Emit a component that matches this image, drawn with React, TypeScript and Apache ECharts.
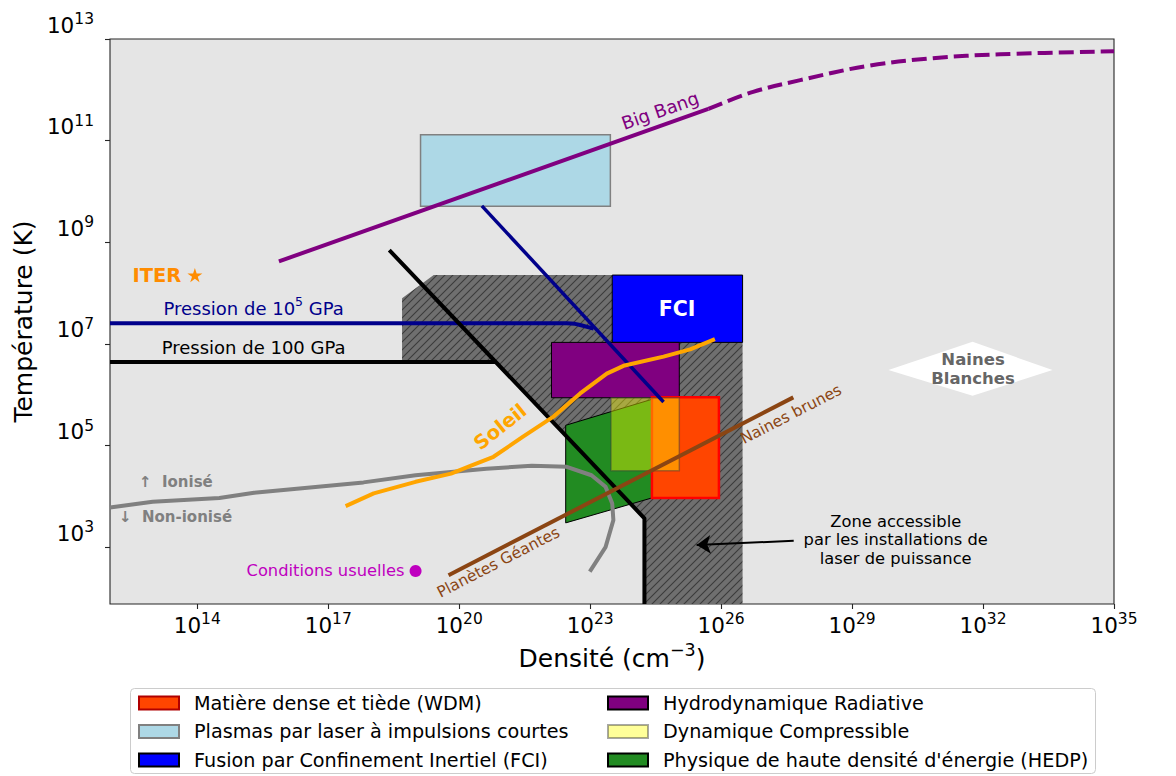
import React, { useEffect, useRef } from 'react';
import * as echarts from 'echarts';

const FONT = 'DejaVu Sans';

// ---- axes ----
const X_MIN = 1e12;
const X_MAX = 1e35;
const Y_MIN = 76;
const Y_MAX = 1e13;
const xTickValues = [1e14, 1e17, 1e20, 1e23, 1e26, 1e29, 1e32, 1e35];
const yTickValues = [1e3, 1e5, 1e7, 1e9, 1e11, 1e13];

// ---- regions: [densityMin, densityMax, tempMin, tempMax] ----
const wdmBox = [2.6e24, 8.9e25, 9.3e3, 8.9e5];
const plasmaBox = [1.3e19, 2.9e23, 5.1e9, 1.3e11];
const fciBox = [3.2e23, 3.1e26, 1.07e7, 2.26e8];
const hydroBox = [1.3e22, 1.1e25, 8.7e5, 1.07e7];
const compressBox = [3.0e23, 1.1e25, 3.2e4, 8.7e5];
const hedpPolygon = [[2.75e22, 2.5e5], [2.6e24, 8.1e5], [2.6e24, 9.3e3], [2.75e22, 3.0e3]];
const laserZonePolygon = [
  [4.9e18, 7.9e7], [2.6e19, 2.26e8], [3.1e26, 2.26e8], [3.1e26, Y_MIN],
  [1.75e24, Y_MIN], [1.75e24, 3.7e3], [6.9e20, 4.4e6], [4.9e18, 4.4e6],
];
const whiteDwarfPolygon = [[6.8e29, 3.05e6], [5.75e31, 1.1e7], [3.9e33, 3.05e6], [5.75e31, 9.5e5]];

// ---- curves ----
const pressure100GPa = [[1e12, 4.4e6], [6.9e20, 4.4e6]];
const pressure1e5GPa = [[1e12, 2.54e7], [2.9e22, 2.54e7], [4.5e22, 2.48e7], [5.9e22, 2.35e7], [1.2e23, 2.0e7]];
const degeneracyLine = [[2.5e18, 7.0e8], [1.75e24, 3.7e3], [1.75e24, Y_MIN]];
const navyLine = [[3.3e20, 5.2e9], [4.8e24, 7.2e5]];
const bigBangSolid = [[7.4e15, 4.2e8], [5.1e25, 4.2e11]];
const bigBangDashed = [[5.1e25, 4.2e11], [5.4e26, 9.1e11], [6.5e27, 1.55e12], [2.2e29, 2.95e12], [7.1e30, 4.2e12], [2.45e32, 5.0e12], [1e35, 5.75e12]];
const ionisationCurve = [
  [1e12, 6.05e3], [9.5e12, 7.8e3], [3.2e14, 9.3e3], [2.0e15, 1.17e4], [6.4e17, 1.88e4],
  [1.0e19, 2.6e4], [4.2e20, 3.5e4], [4.6e21, 4.0e4], [2.9e22, 3.8e4], [1.07e23, 2.6e4],
  [2.25e23, 1.54e4], [3.2e23, 7.2e3], [3.4e23, 3.4e3], [2.25e23, 1.0e3], [9.8e22, 3.3e2],
];
const sunCurve = [
  [2.5e17, 6.4e3], [1.1e18, 1.14e4], [1.0e19, 1.93e4], [6.5e19, 2.8e4], [2.0e20, 4.1e4],
  [6.1e20, 6.0e4], [2.9e21, 1.49e5], [1.44e22, 3.7e5], [5.9e22, 1.06e6], [2.4e23, 2.6e6],
  [5.8e23, 3.7e6], [4.8e24, 5.6e6], [1.95e25, 7.8e6], [7.2e25, 1.24e7],
];
const planetsLine = [[5.7e19, 2.8e2], [4.5e27, 8.85e5]];
const arrowCoords = [[4.6e27, 1.33e3], [2.75e25, 1.1e3]];
const iterPoint = [8.8e13, 2.26e8];
const usualPoint = [1.0e19, 3.4e2];

// ---- text anchors ----
const bigBangTextAt = [4.0e24, 3.9e11];
const press5TextAt = [1.95e15, 5.5e7];
const press100TextAt = [1.95e15, 8.5e6];
const soleilTextAt = [8.7e20, 2.3e5];
const ioniseTextAt = [4.6e12, 1.9e4];
const nonIoniseTextAt = [1.6e12, 4.0e3];
const planetsTextAt = [7.9e20, 5.0e2];
const brownDwarfTextAt = [4.0e27, 4.1e5];
const zoneTextAt = [1.0e30, 1.4e3];
const whiteDwarfTextAt = [5.9e31, 3.2e6];
const fciTextAt = [9.8e24, 4.8e7];

// ---- legend names ----
const NAME_WDM = 'Matière dense et tiède (WDM)';
const NAME_PLASMA = 'Plasmas par laser à impulsions courtes';
const NAME_FCI = 'Fusion par Confinement Inertiel (FCI)';
const NAME_HYDRO = 'Hydrodynamique Radiative';
const NAME_COMP = 'Dynamique Compressible';
const NAME_HEDP = "Physique de haute densité d'énergie (HEDP)";

const hatchSvg =
  "<svg xmlns='http://www.w3.org/2000/svg' width='8' height='8'>" +
  "<rect width='8' height='8' fill='#6f6f6f'/>" +
  "<path d='M-1,1 L1,-1 M0,8 L8,0 M7,9 L9,7' stroke='#3a3a3a' stroke-width='1.1'/></svg>";
const hatchUrl = 'data:image/svg+xml;charset=utf-8,' + encodeURIComponent(hatchSvg);

function boxToPolygon(b: number[]) {
  return [[b[0], b[2]], [b[1], b[2]], [b[1], b[3]], [b[0], b[3]]];
}

function polygonSeries(name: string | undefined, pts: number[][], style: any, itemStyle?: any) {
  return {
    type: 'custom',
    name,
    coordinateSystem: 'cartesian2d',
    silent: true,
    clip: true,
    data: [pts[0]],
    itemStyle,
    renderItem: (_params: any, api: any) => ({
      type: 'polygon',
      shape: { points: pts.map((p) => api.coord(p)) },
      style,
    }),
  };
}

function lineSeries(pts: number[][], color: string, width: number, extra: any = {}, smooth: any = false) {
  return {
    type: 'line',
    data: pts,
    showSymbol: false,
    symbol: 'none',
    silent: true,
    smooth,
    lineStyle: { color, width, cap: 'butt', join: 'round', opacity: 1, ...extra },
  };
}

function textSeries(at: number[], formatter: string, style: any) {
  return {
    type: 'scatter',
    data: [at],
    symbolSize: 1,
    silent: true,
    itemStyle: { color: 'transparent', opacity: 1 },
    label: {
      show: true,
      position: 'inside',
      formatter,
      fontFamily: FONT,
      textBorderWidth: 0,
      opacity: 1,
      align: 'center',
      verticalAlign: 'middle',
      ...style,
    },
    z: 6,
  };
}

const supFmt = (v: number) => `{b|10}{s|${Math.round(Math.log10(v))}}`;
const tickRich = {
  b: { fontSize: 21.5, lineHeight: 25, fontFamily: FONT, color: '#000', verticalAlign: 'bottom' },
  s: { fontSize: 15.5, lineHeight: 15, fontFamily: FONT, color: '#000', verticalAlign: 'top' },
};

export default function App() {
  const ref = useRef<HTMLDivElement>(null);
  useEffect(() => {
    document.body.style.margin = '0';
    const chart = echarts.init(ref.current!, null, { renderer: 'svg' });
    const legendBase = {
      orient: 'vertical',
      top: 693,
      itemWidth: 40,
      itemHeight: 13,
      itemGap: 8.5,
      icon: 'rect',
      padding: 0,
      selectedMode: false,
      textStyle: { fontFamily: FONT, fontSize: 19.2, lineHeight: 20, color: '#000', padding: [0, 0, 0, 10] },
    };
    chart.setOption({
      animation: false,
      backgroundColor: '#fff',
      grid: {
        left: 110, right: 62, top: 39, bottom: 172,
        show: true, backgroundColor: '#e5e5e5', borderColor: '#262626', borderWidth: 1.1,
        containLabel: false, outerBoundsMode: 'none',
      },
      legend: [
        { ...legendBase, left: 138, data: [NAME_WDM, NAME_PLASMA, NAME_FCI] },
        { ...legendBase, left: 607, data: [NAME_HYDRO, NAME_COMP, NAME_HEDP] },
      ],
      graphic: [
        {
          type: 'rect', left: 130, top: 688, z: 0,
          shape: { width: 965, height: 85, r: 4 },
          style: { fill: '#fff', stroke: '#cccccc', lineWidth: 1 },
        },
      ],
      xAxis: {
        type: 'log', logBase: 10, min: X_MIN, max: X_MAX,
        name: '{a|Densité (cm}{s|−3}{a|)}',
        nameLocation: 'middle', nameGap: 36,
        nameTextStyle: {
          rich: {
            a: { fontSize: 25, fontFamily: FONT, color: '#000', lineHeight: 30, verticalAlign: 'bottom' },
            s: { fontSize: 17.5, fontFamily: FONT, color: '#000', lineHeight: 18, verticalAlign: 'top' },
          },
        },
        axisLine: { show: false },
        axisTick: { show: true, length: 5, customValues: xTickValues, lineStyle: { color: '#262626', width: 1.1 } },
        axisLabel: { customValues: xTickValues, margin: 7, formatter: supFmt, rich: tickRich },
        splitLine: { show: false },
        minorTick: { show: false },
        minorSplitLine: { show: false },
      },
      yAxis: {
        type: 'log', logBase: 10, min: Y_MIN, max: Y_MAX,
        name: 'Température (K)',
        nameLocation: 'middle', nameGap: 70,
        nameTextStyle: { fontSize: 25, fontFamily: FONT, color: '#000' },
        axisLine: { show: false },
        axisTick: { show: true, length: 5, customValues: yTickValues, lineStyle: { color: '#262626', width: 1.1 } },
        axisLabel: {
          customValues: yTickValues, margin: 16, formatter: supFmt, rich: tickRich,
          verticalAlign: 'bottom', padding: [0, 0, 3, 0],
        },
        splitLine: { show: false },
        minorTick: { show: false },
        minorSplitLine: { show: false },
      },
      series: [
        polygonSeries(undefined, laserZonePolygon, {
          fill: { image: hatchUrl, repeat: 'repeat', imageWidth: 8, imageHeight: 8 },
        }),
        polygonSeries(NAME_PLASMA, boxToPolygon(plasmaBox),
          { fill: '#add8e6', stroke: '#808080', lineWidth: 1.5 },
          { color: '#add8e6', borderColor: '#808080', borderWidth: 1.5 }),
        polygonSeries(NAME_FCI, boxToPolygon(fciBox),
          { fill: '#0000ff', stroke: '#000', lineWidth: 1 },
          { color: '#0000ff', borderColor: '#000', borderWidth: 1 }),
        polygonSeries(NAME_HYDRO, boxToPolygon(hydroBox),
          { fill: '#800080', stroke: '#000', lineWidth: 1 },
          { color: '#800080', borderColor: '#000', borderWidth: 1 }),
        polygonSeries(NAME_HEDP, hedpPolygon,
          { fill: '#228b22', stroke: '#000', lineWidth: 1 },
          { color: '#228b22', borderColor: '#000', borderWidth: 1 }),
        polygonSeries(NAME_WDM, boxToPolygon(wdmBox),
          { fill: '#ff4500', stroke: '#ff0000', lineWidth: 2.5 },
          { color: '#ff4500', borderColor: '#b00000', borderWidth: 1 }),
        lineSeries(pressure1e5GPa, '#00008b', 4),
        lineSeries(pressure100GPa, '#000', 4),
        lineSeries(degeneracyLine, '#000', 4),
        lineSeries(navyLine, '#00008b', 3.5),
        polygonSeries(NAME_COMP, boxToPolygon(compressBox),
          { fill: 'rgba(255,255,0,0.4)', stroke: 'rgba(60,60,60,0.45)', lineWidth: 1.5 },
          { color: 'rgba(255,255,0,0.4)', borderColor: 'rgba(60,60,60,0.45)', borderWidth: 1 }),
        lineSeries(ionisationCurve, '#808080', 4),
        lineSeries(sunCurve, '#ffa500', 4),
        lineSeries(planetsLine, '#8b4513', 4),
        lineSeries(bigBangSolid, '#800080', 4),
        lineSeries(bigBangDashed, '#800080', 4, { type: [15, 6] }, 0.35),
        {
          type: 'lines', coordinateSystem: 'cartesian2d', silent: true,
          data: [{ coords: arrowCoords }],
          symbol: ['none', 'arrow'], symbolSize: [11, 14],
          lineStyle: { color: '#000', width: 2, opacity: 1, curveness: 0 },
          z: 4,
        },
        polygonSeries(undefined, whiteDwarfPolygon, { fill: '#ffffff' }),
        {
          type: 'scatter', data: [iterPoint], silent: true,
          symbol: 'path://M0,-10 L2.245,-3.09 L9.51,-3.09 L3.633,1.18 L5.88,8.09 L0,3.82 L-5.88,8.09 L-3.633,1.18 L-9.51,-3.09 L-2.245,-3.09 Z',
          symbolKeepAspect: true, symbolSize: 15,
          itemStyle: { color: '#ff8c00', opacity: 1 },
          label: {
            show: true, position: 'left', distance: 6, formatter: 'ITER', opacity: 1,
            fontFamily: FONT, fontWeight: 'bold', fontSize: 19.5, color: '#ff8c00', textBorderWidth: 0,
          },
          z: 6,
        },
        {
          type: 'scatter', data: [usualPoint], silent: true,
          symbol: 'circle', symbolSize: 12,
          itemStyle: { color: '#bf00bf', opacity: 1 },
          label: {
            show: true, position: 'left', distance: 5, formatter: 'Conditions usuelles', opacity: 1,
            fontFamily: FONT, fontSize: 16.3, color: '#bf00bf', textBorderWidth: 0,
          },
          z: 6,
        },
        textSeries(bigBangTextAt, 'Big Bang', { fontSize: 18, color: '#800080', rotate: 19.4 }),
        textSeries(press5TextAt, '{n|Pression de 10}{s|5}{n| GPa}', {
          rich: {
            n: { fontSize: 18, fontFamily: FONT, color: '#00008b', lineHeight: 22, verticalAlign: 'bottom' },
            s: { fontSize: 12.5, fontFamily: FONT, color: '#00008b', lineHeight: 12, verticalAlign: 'top' },
          },
        }),
        textSeries(press100TextAt, 'Pression de 100 GPa', { fontSize: 18, color: '#000' }),
        textSeries(soleilTextAt, 'Soleil', { fontSize: 19.5, fontWeight: 'bold', color: '#ffa500', rotate: 38.5 }),
        textSeries(ioniseTextAt, '↑  Ionisé', { fontSize: 15, fontWeight: 'bold', color: '#808080', align: 'left' }),
        textSeries(nonIoniseTextAt, '↓  Non-ionisé', { fontSize: 15, fontWeight: 'bold', color: '#808080', align: 'left' }),
        textSeries(planetsTextAt, 'Planètes Géantes', { fontSize: 15.5, color: '#8b4513', rotate: 27.3 }),
        textSeries(brownDwarfTextAt, 'Naines brunes', { fontSize: 15.5, color: '#8b4513', rotate: 27.3 }),
        textSeries(zoneTextAt, 'Zone accessible\npar les installations de\nlaser de puissance', {
          fontSize: 16.3, color: '#000', lineHeight: 18.5,
        }),
        textSeries(whiteDwarfTextAt, 'Naines\nBlanches', {
          fontSize: 16.5, fontWeight: 'bold', color: '#666666', lineHeight: 18.5,
        }),
        textSeries(fciTextAt, 'FCI', { fontSize: 20.5, fontWeight: 'bold', color: '#ffffff' }),
      ],
    });
    return () => chart.dispose();
  }, []);
  return <div ref={ref} style={{ width: 1176, height: 776 }} />;
}
